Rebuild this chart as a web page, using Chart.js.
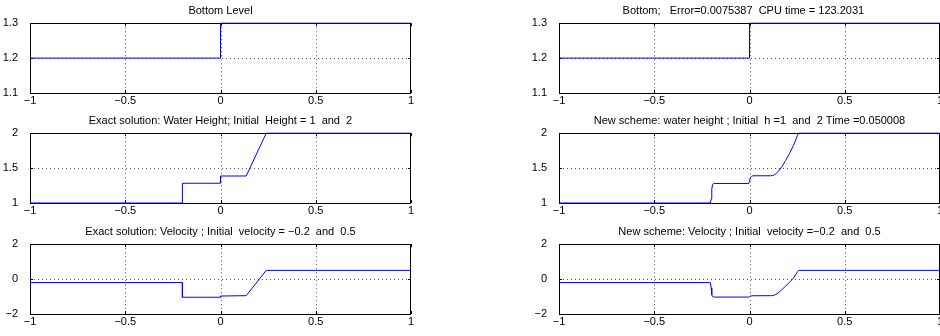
<!DOCTYPE html>
<html>
<head>
<meta charset="utf-8">
<script src="https://cdn.jsdelivr.net/npm/chart.js@4.4.1/dist/chart.umd.min.js"></script>
<style>
  body { margin: 0; background: #fff; width: 940px; height: 336px; overflow: hidden; position: relative; }
  canvas { position: absolute; }
</style>
</head>
<body>
<canvas id="c1" width="420" height="110" style="left:0;top:0"></canvas>
<canvas id="c2" width="420" height="110" style="left:0;top:110px"></canvas>
<canvas id="c3" width="420" height="110" style="left:0;top:221px"></canvas>
<canvas id="c4" width="411" height="110" style="left:529px;top:0"></canvas>
<canvas id="c5" width="411" height="110" style="left:529px;top:110px"></canvas>
<canvas id="c6" width="411" height="110" style="left:529px;top:221px"></canvas>
<script>
  // tick labels
  const xTicks = [-1, -0.5, 0, 0.5, 1];
  const bottomTicks = [1.1, 1.2, 1.3];
  const heightTicks = [1, 1.5, 2];
  const velocityTicks = [-2, 0, 2];

  // bottom level (same in both columns)
  const bottomX = [-1, 0, 0, 1];
  const bottomLevel = [1.2, 1.2, 1.3, 1.3];

  // exact solution
  const exactHX = [-1, -0.2, -0.2, 0, 0, 0.135, 0.24, 1];
  const exactH = [1, 1, 1.283, 1.283, 1.387, 1.387, 2, 2];
  const exactVX = [-1, -0.2, -0.2, 0, 0, 0.135, 0.24, 1];
  const exactV = [-0.2, -0.2, -1.04, -1.04, -0.97, -0.95, 0.5, 0.5];

  // new scheme
  const newX = [-1, -0.206, -0.201, -0.198, -0.194, -0.188, -0.004, 0, 0.004, 0.01, 0.018, 0.11,
                0.122, 0.135, 0.15, 0.17, 0.19, 0.21, 0.23, 0.245, 0.252, 0.258, 1];
  const newH = [1, 1, 1.06, 1.2, 1.26, 1.28, 1.28, 1.31, 1.36, 1.38, 1.39, 1.39,
                1.395, 1.41, 1.45, 1.52, 1.61, 1.71, 1.82, 1.92, 1.97, 2, 2];
  const newV = [-0.2, -0.2, -0.5, -0.9, -1.0, -1.03, -1.03, -1.0, -0.97, -0.96, -0.955, -0.95,
                -0.94, -0.9, -0.8, -0.6, -0.4, -0.18, 0.05, 0.3, 0.44, 0.5, 0.5];

  const FONT = { family: '"Liberation Sans", Arial, sans-serif', size: 11 };

  function fmt(v) {
    let s = String(Math.round(v * 100) / 100);
    return s.replace('-', '\u2212');
  }

  // matlab style box, dotted grid and inward ticks
  const boxPlugin = {
    id: 'box',
    beforeDatasetsDraw(chart) {
      const { ctx, chartArea: a, scales } = chart;
      const xs = scales.x, ys = scales.y;
      ctx.save();
      ctx.lineWidth = 1;
      ctx.strokeStyle = '#555';
      ctx.setLineDash([1, 3]);
      xs.ticks.forEach(t => {
        if (t.value <= xs.min || t.value >= xs.max) return;
        const px = Math.round(xs.getPixelForValue(t.value)) + 0.5;
        ctx.beginPath(); ctx.moveTo(px, a.top); ctx.lineTo(px, a.bottom); ctx.stroke();
      });
      ys.ticks.forEach(t => {
        if (t.value <= ys.min || t.value >= ys.max) return;
        const py = Math.round(ys.getPixelForValue(t.value)) + 0.5;
        ctx.beginPath(); ctx.moveTo(a.left, py); ctx.lineTo(a.right, py); ctx.stroke();
      });
      ctx.setLineDash([]);
      ctx.strokeStyle = '#000';
      xs.ticks.forEach(t => {
        const px = Math.round(xs.getPixelForValue(t.value)) + 0.5;
        ctx.beginPath();
        ctx.moveTo(px, a.top); ctx.lineTo(px, a.top + 3);
        ctx.moveTo(px, a.bottom); ctx.lineTo(px, a.bottom - 3);
        ctx.stroke();
      });
      ys.ticks.forEach(t => {
        const py = Math.round(ys.getPixelForValue(t.value)) + 0.5;
        ctx.beginPath();
        ctx.moveTo(a.left, py); ctx.lineTo(a.left + 3, py);
        ctx.moveTo(a.right, py); ctx.lineTo(a.right - 3, py);
        ctx.stroke();
      });
      ctx.strokeRect(Math.round(a.left) + 0.5, Math.round(a.top) + 0.5,
                     Math.round(a.right - a.left) - 1, Math.round(a.bottom - a.top));
      ctx.restore();
    }
  };

  function panel(id, title, xs, ys, yMin, yMax, yTicks, padRight) {
    const pts = xs.map((x, i) => ({ x: x, y: ys[i] }));
    new Chart(document.getElementById(id), {
      type: 'line',
      data: {
        datasets: [{
          data: pts,
          borderColor: '#0000ff',
          borderWidth: 1,
          pointRadius: 0,
          tension: 0,
          fill: false,
          clip: 2
        }]
      },
      options: {
        responsive: false,
        animation: false,
        layout: { padding: { left: 0, right: padRight, top: 0, bottom: 0 } },
        plugins: {
          legend: { display: false },
          tooltip: { enabled: false },
          title: {
            display: true,
            text: title,
            fullSize: false,
            color: '#000',
            font: { family: FONT.family, size: 11, weight: 'normal', lineHeight: 1.2 },
            padding: { top: 4, bottom: 6 }
          }
        },
        scales: {
          x: {
            type: 'linear',
            min: -1, max: 1,
            afterBuildTicks: s => { s.ticks = xTicks.map(v => ({ value: v })); },
            afterFit: s => { s.height = 17; s.paddingLeft = 0; s.paddingRight = 0; },
            ticks: { callback: fmt, font: FONT, color: '#000', padding: -7, maxRotation: 0, autoSkip: false },
            grid: { display: false },
            border: { display: false }
          },
          y: {
            min: yMin, max: yMax,
            afterBuildTicks: s => { s.ticks = yTicks.map(v => ({ value: v })); },
            afterFit: s => { s.width = 30; s.paddingTop = 0; s.paddingBottom = 0; },
            ticks: { callback: fmt, font: FONT, color: '#000', padding: 4, autoSkip: false },
            grid: { display: false },
            border: { display: false }
          }
        }
      },
      plugins: [boxPlugin]
    });
  }

  panel('c1', 'Bottom Level', bottomX, bottomLevel, 1.1, 1.3, bottomTicks, 9);
  panel('c2', 'Exact solution: Water Height; Initial  Height = 1  and  2', exactHX, exactH, 1, 2, heightTicks, 9);
  panel('c3', 'Exact solution: Velocity ; Initial  velocity = \u22120.2  and  0.5', exactVX, exactV, -2, 2, velocityTicks, 9);
  panel('c4', 'Bottom;   Error=0.0075387  CPU time = 123.2031    ', bottomX, bottomLevel, 1.1, 1.3, bottomTicks, 0);
  panel('c5', 'New scheme: water height ; Initial  h =1  and  2 Time =0.050008', newX, newH, 1, 2, heightTicks, 0);
  panel('c6', 'New scheme: Velocity ; Initial  velocity =\u22120.2  and  0.5', newX, newV, -2, 2, velocityTicks, 0);
</script>
</body>
</html>
